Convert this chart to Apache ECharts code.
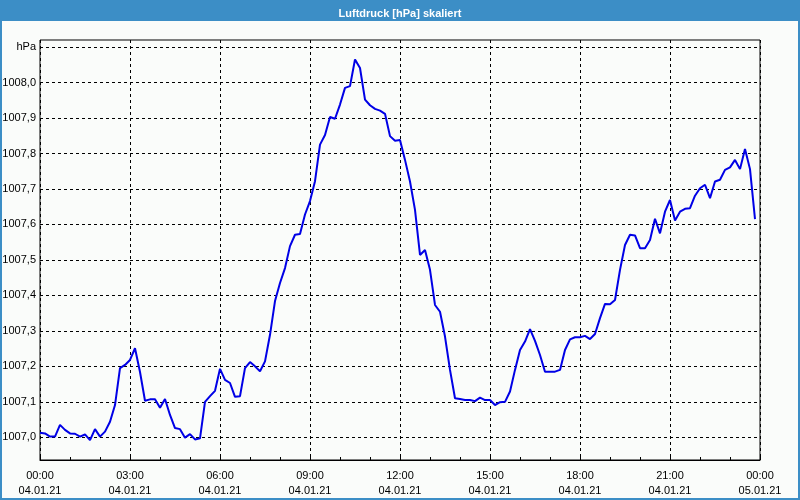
<!DOCTYPE html>
<html>
<head>
<meta charset="utf-8">
<script src="https://cdn.jsdelivr.net/npm/echarts@6/dist/echarts.min.js"></script>
<style>
html,body{margin:0;padding:0;background:#fafcfa;}
#chart{width:800px;height:500px;}
</style>
</head>
<body>
<div id="chart"></div>
<script>
// Minutes since 04.01.21 00:00, every 10 minutes
const minutes = Array.from({length: 144}, (_, i) => i * 10);
const pressure = [
  1007.013, 1007.011, 1007.002, 1007.002, 1007.035, 1007.021, 1007.011, 1007.010, 1007.002, 1007.008,
  1006.992, 1007.023, 1007.002, 1007.016, 1007.044, 1007.091, 1007.195, 1007.204, 1007.218, 1007.251,
  1007.184, 1007.103, 1007.107, 1007.107, 1007.083, 1007.108, 1007.063, 1007.026, 1007.023, 1006.999,
  1007.009, 1006.994, 1006.997, 1007.100, 1007.116, 1007.131, 1007.193, 1007.162, 1007.153, 1007.114,
  1007.116, 1007.195, 1007.212, 1007.200, 1007.186, 1007.214, 1007.289, 1007.384, 1007.435, 1007.477,
  1007.539, 1007.571, 1007.573, 1007.628, 1007.666, 1007.722, 1007.825, 1007.852, 1007.903, 1007.898,
  1007.938, 1007.985, 1007.990, 1008.065, 1008.041, 1007.952, 1007.936, 1007.926, 1007.921, 1007.912,
  1007.849, 1007.836, 1007.838, 1007.782, 1007.721, 1007.641, 1007.514, 1007.528, 1007.472, 1007.373,
  1007.354, 1007.284, 1007.190, 1007.110, 1007.108, 1007.105, 1007.105, 1007.102, 1007.112, 1007.105,
  1007.105, 1007.091, 1007.099, 1007.100, 1007.129, 1007.190, 1007.246, 1007.270, 1007.305, 1007.272,
  1007.232, 1007.185, 1007.185, 1007.185, 1007.190, 1007.246, 1007.276, 1007.282, 1007.282, 1007.286,
  1007.277, 1007.291, 1007.336, 1007.376, 1007.375, 1007.387, 1007.472, 1007.542, 1007.571, 1007.569,
  1007.533, 1007.533, 1007.556, 1007.616, 1007.575, 1007.636, 1007.669, 1007.611, 1007.636, 1007.644,
  1007.646, 1007.681, 1007.702, 1007.712, 1007.674, 1007.721, 1007.726, 1007.754, 1007.761, 1007.782,
  1007.756, 1007.813, 1007.756, 1007.615
];
const yTickValues = [1007.0, 1007.1, 1007.2, 1007.3, 1007.4, 1007.5, 1007.6, 1007.7, 1007.8, 1007.9, 1008.0, 1008.1];
const yTickLabels = ['1007,0', '1007,1', '1007,2', '1007,3', '1007,4', '1007,5', '1007,6', '1007,7', '1007,8', '1007,9', '1008,0', 'hPa'];
const xTimeLabels = ['00:00', '03:00', '06:00', '09:00', '12:00', '15:00', '18:00', '21:00', '00:00'];
const xDateLabels = ['04.01.21', '04.01.21', '04.01.21', '04.01.21', '04.01.21', '04.01.21', '04.01.21', '04.01.21', '05.01.21'];
const titleText = 'Luftdruck [hPa] skaliert';

const chart = echarts.init(document.getElementById('chart'), null, {renderer: 'canvas'});
const FONT = '"Liberation Sans", Arial, sans-serif';
const BLUE = '#3c8ec6';

chart.setOption({
  animation: false,
  backgroundColor: '#fafcfa',
  title: {
    text: titleText,
    left: 'center',
    top: 3,
    z: 10,
    textStyle: {color: '#ffffff', fontFamily: FONT, fontSize: 11, fontWeight: 'bold'}
  },
  graphic: [
    {type: 'rect', z: 0, shape: {x: 0, y: 0, width: 800, height: 21}, style: {fill: BLUE}},
    {type: 'rect', z: 0, shape: {x: 1, y: 1, width: 798, height: 498}, style: {fill: 'none', stroke: BLUE, lineWidth: 2}}
  ],
  grid: {left: 40, right: 40, top: 40, bottom: 40, show: true, borderColor: '#000', borderWidth: 1, backgroundColor: 'transparent'},
  xAxis: {
    type: 'value',
    min: 0,
    max: 1440,
    interval: 180,
    axisLine: {show: true, lineStyle: {color: '#000', width: 1}},
    axisTick: {show: true, inside: true, length: 4, lineStyle: {color: '#000'}},
    minorTick: {show: true, splitNumber: 3, length: 3, lineStyle: {color: '#000'}},
    splitLine: {show: true, lineStyle: {color: '#000', type: [3, 3], width: 1}},
    axisLabel: {
      margin: 8,
      color: '#000',
      fontFamily: FONT,
      fontSize: 11,
      lineHeight: 15,
      formatter: function (v) {
        const i = Math.round(v / 180);
        return xTimeLabels[i] + '\n' + xDateLabels[i];
      }
    }
  },
  yAxis: {
    type: 'value',
    min: 1006.936,
    max: 1008.12,
    axisLine: {show: false},
    axisTick: {show: false},
    axisLabel: {show: false},
    splitLine: {show: false}
  },
  series: [
    {
      type: 'line',
      data: [],
      z: 1,
      markLine: {
        silent: true,
        z: 1,
        symbol: 'none',
        animation: false,
        lineStyle: {color: '#000', type: [3, 3], width: 1},
        label: {
          show: true,
          position: 'start',
          distance: 4,
          color: '#000',
          fontFamily: FONT,
          fontSize: 11,
          formatter: function (p) {
            const i = yTickValues.indexOf(p.value);
            return yTickLabels[i];
          }
        },
        emphasis: {disabled: true},
        data: yTickValues.map(v => ({yAxis: v}))
      }
    },
    {
      type: 'line',
      z: 10,
      showSymbol: false,
      symbol: 'none',
      data: minutes.map((m, i) => [m, pressure[i]]),
      lineStyle: {color: '#0000e6', width: 2},
      emphasis: {disabled: true}
    }
  ]
});
</script>
</body>
</html>
